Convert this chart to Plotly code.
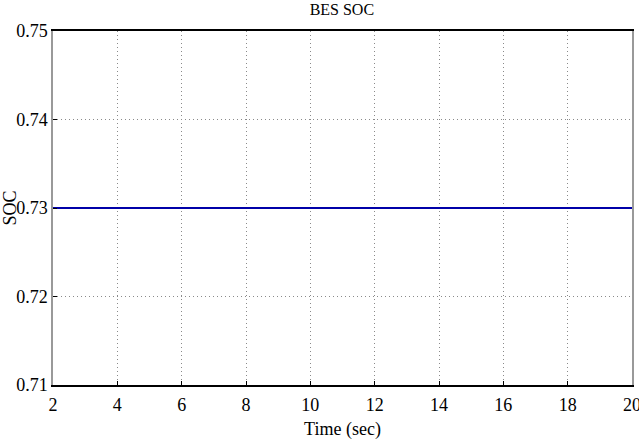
import plotly.graph_objects as go

time_sec = [2, 4, 6, 8, 10, 12, 14, 16, 18, 20]
soc = [0.73, 0.73, 0.73, 0.73, 0.73, 0.73, 0.73, 0.73, 0.73, 0.73]
x_ticks = [2, 4, 6, 8, 10, 12, 14, 16, 18, 20]
y_ticks = [0.71, 0.72, 0.73, 0.74, 0.75]

FAM = "Times New Roman"
font = dict(family=FAM, size=18, color="black")

fig = go.Figure()
fig.add_trace(go.Scatter(x=time_sec, y=soc, mode="lines",
                         line=dict(color="#0000a8", width=2)))

fig.update_layout(
    width=639, height=442,
    margin=dict(l=53, r=7, t=31, b=57),
    paper_bgcolor="white", plot_bgcolor="white",
    showlegend=False,
    font=font,
    title=dict(text="BES SOC", x=0.535, xanchor="center", y=0.978, yanchor="middle",
               font=dict(family=FAM, size=16, color="black")),
)
fig.update_xaxes(range=[2, 20], tickvals=x_ticks, ticktext=[str(v) for v in x_ticks],
                 showgrid=True, gridcolor="#8a8a8a", griddash="1px,3px", gridwidth=1,
                 showline=True, linecolor="black", linewidth=1.5, mirror=True,
                 ticks="inside", ticklen=4, tickcolor="black",
                 zeroline=False, tickfont=font, automargin=False,
                 ticklabeloverflow="allow", ticklabelstandoff=3,
                 title=dict(text="Time (sec)", font=font, standoff=8))
fig.update_yaxes(range=[0.71, 0.75], tickvals=y_ticks, ticktext=[f"{v:.2f}" for v in y_ticks],
                 showgrid=True, gridcolor="#8a8a8a", griddash="1px,3px", gridwidth=1,
                 showline=True, linecolor="#999999", linewidth=1.5, mirror=True,
                 ticks="inside", ticklen=4, tickcolor="black",
                 zeroline=False, tickfont=font, automargin=False,
                 ticklabeloverflow="allow",
                 title=dict(text="SOC", font=font, standoff=5))

fig.write_html("out.html", config={"displayModeBar": False},
               post_script="document.body.style.margin='0';")
